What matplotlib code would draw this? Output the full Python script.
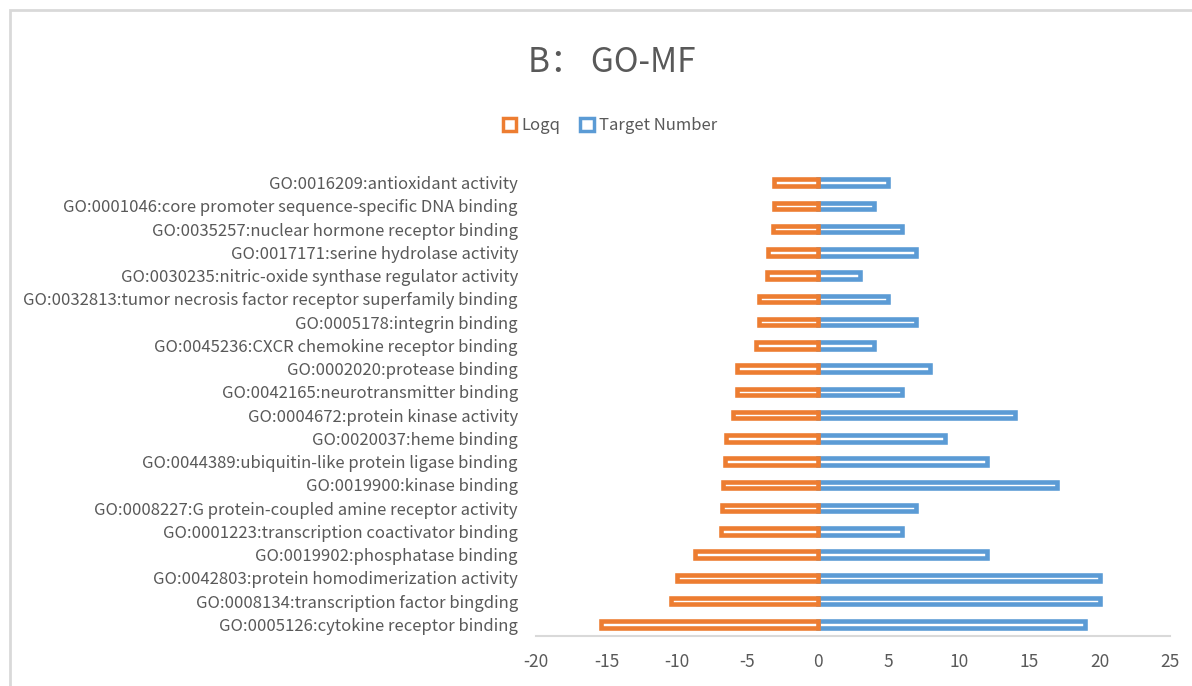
import matplotlib
matplotlib.use("Agg")
import matplotlib.pyplot as plt
from matplotlib.patches import Patch, Rectangle

plt.rcParams['font.family'] = ['Noto Sans CJK SC', 'DejaVu Sans']

categories = [
    "GO:0016209:antioxidant activity",
    "GO:0001046:core promoter sequence-specific DNA binding",
    "GO:0035257:nuclear hormone receptor binding",
    "GO:0017171:serine hydrolase activity",
    "GO:0030235:nitric-oxide synthase regulator activity",
    "GO:0032813:tumor necrosis factor receptor superfamily binding",
    "GO:0005178:integrin binding",
    "GO:0045236:CXCR chemokine receptor binding",
    "GO:0002020:protease binding",
    "GO:0042165:neurotransmitter binding",
    "GO:0004672:protein kinase activity",
    "GO:0020037:heme binding",
    "GO:0044389:ubiquitin-like protein ligase binding",
    "GO:0019900:kinase binding",
    "GO:0008227:G protein-coupled amine receptor activity",
    "GO:0001223:transcription coactivator binding",
    "GO:0019902:phosphatase binding",
    "GO:0042803:protein homodimerization activity",
    "GO:0008134:transcription factor bingding",
    "GO:0005126:cytokine receptor binding",
]
logq = [-3.1, -3.1, -3.2, -3.5, -3.6, -4.2, -4.2, -4.4, -5.7, -5.7,
        -6.0, -6.5, -6.6, -6.7, -6.8, -6.9, -8.7, -10.0, -10.4, -15.4]
target_number = [5, 4, 6, 7, 3, 5, 7, 4, 8, 6,
                 14, 9, 12, 17, 7, 6, 12, 20, 20, 19]
xticks = [-20, -15, -10, -5, 0, 5, 10, 15, 20, 25]

ORANGE = "#ED7D31"
BLUE = "#5B9BD5"
GRAY_TEXT = "#595959"

fig = plt.figure(figsize=(11.92, 6.86), dpi=100)
border = Rectangle((10 / 1192, -0.1), 1.2, 1 - 10 / 686 + 0.1,
                   transform=fig.transFigure, facecolor="white",
                   edgecolor="#D9D9D9", linewidth=2, zorder=-10)
fig.patches.append(border)
ax = fig.add_axes([536 / 1192, 1 - 636 / 686, (1170 - 536) / 1192, (636 - 171) / 686])
ax.set_facecolor("none")

n = len(categories)
ypos = [n - 1 - i for i in range(n)]
h = 0.28
lw = 3.3
ax.barh(ypos, target_number, height=h, facecolor="white", edgecolor=BLUE, linewidth=lw)
ax.barh(ypos, logq, height=h, facecolor="white", edgecolor=ORANGE, linewidth=lw)

ax.set_xlim(-20, 25)
ax.set_ylim(-0.5, n - 0.5)
ax.set_xticks(xticks)
ax.set_xticklabels([str(t) for t in xticks], fontsize=12.5, color=GRAY_TEXT)
ax.set_yticks(ypos)
ax.set_yticklabels(categories, fontsize=12, color=GRAY_TEXT)
ax.tick_params(axis="both", length=0)
ax.tick_params(axis="x", pad=12)
ax.tick_params(axis="y", pad=13)
for s in ["top", "right", "left"]:
    ax.spines[s].set_visible(False)
ax.spines["bottom"].set_color("#D9D9D9")
ax.spines["bottom"].set_linewidth(1.5)

fig.text(612 / 1192, 1 - 62 / 686, "B： GO-MF", ha="center", va="center",
         fontsize=24, color=GRAY_TEXT)

handles = [Patch(facecolor="white", edgecolor=ORANGE, linewidth=2.5, label="Logq"),
           Patch(facecolor="white", edgecolor=BLUE, linewidth=2.5, label="Target Number")]
fig.legend(handles=handles, loc="center", bbox_to_anchor=(610 / 1192, 1 - 126 / 686),
           ncol=2, frameon=False, fontsize=12, labelcolor=GRAY_TEXT,
           handlelength=0.8, handleheight=0.8, handletextpad=0.3, columnspacing=1.2)

fig.savefig("out.png", dpi=100)
